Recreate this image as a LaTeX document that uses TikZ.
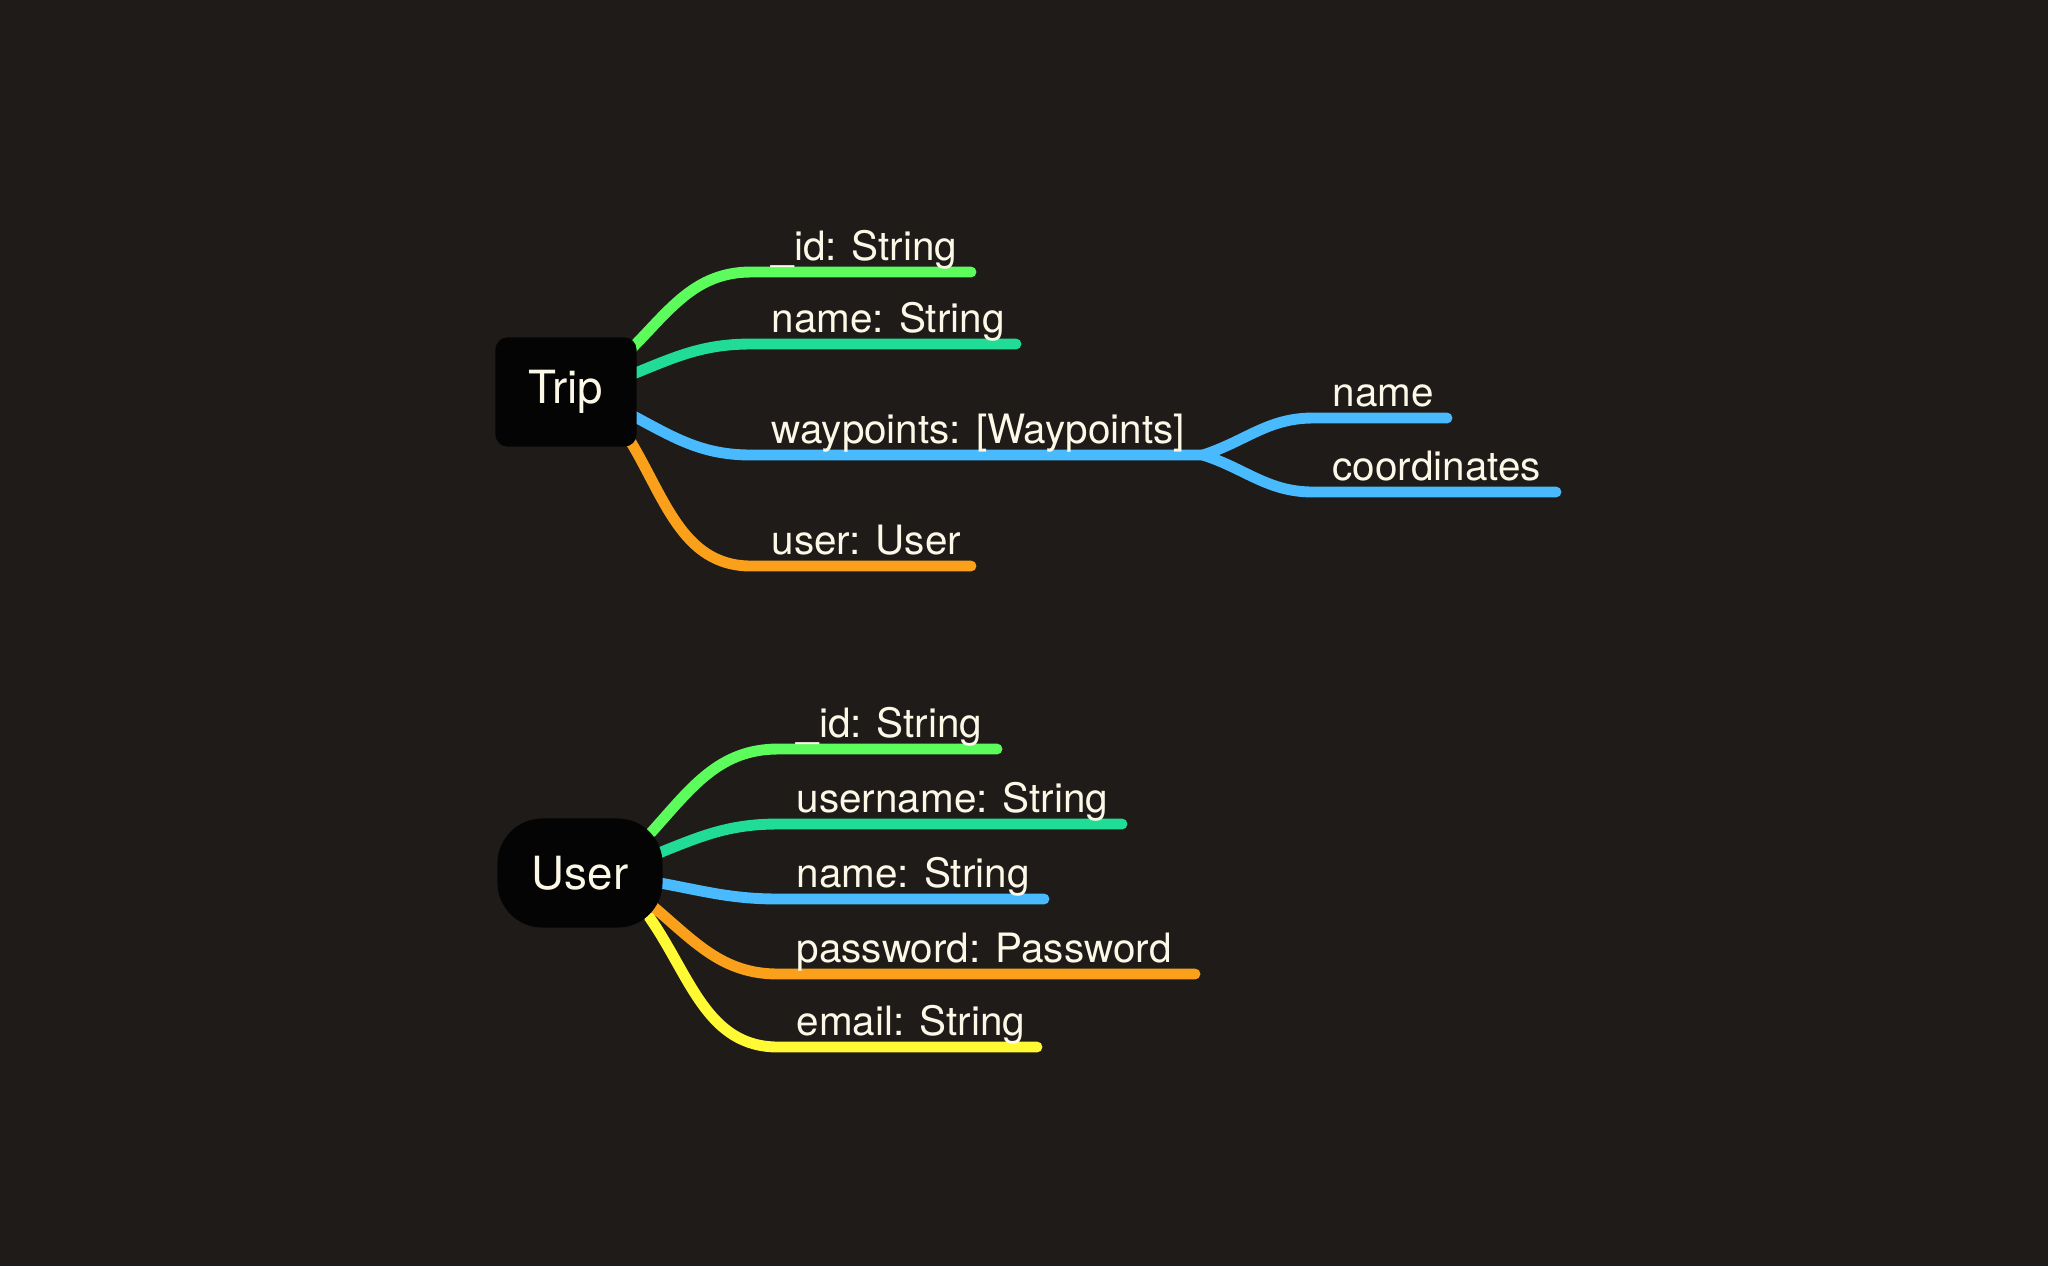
\documentclass[tikz,border=0pt]{standalone}
\usepackage{fontspec}
\setmainfont{TeX Gyre Heros}
\usepackage{tikz}
\usetikzlibrary{positioning}

\definecolor{canvasdark}{RGB}{30,27,24}
\definecolor{boxblack}{RGB}{4,4,4}
\definecolor{inkcream}{RGB}{252,248,232}
\definecolor{cgreen}{RGB}{92,252,92}
\definecolor{cteal}{RGB}{32,220,150}
\definecolor{cblue}{RGB}{74,186,255}
\definecolor{corange}{RGB}{250,160,26}
\definecolor{cyellow}{RGB}{255,250,52}

\pgfdeclarelayer{canvas}
\pgfdeclarelayer{links}
\pgfsetlayers{canvas,links,main}

\tikzset{
  entity/.style={fill=boxblack, text=inkcream, minimum height=1.09cm,
    font=\fontsize{13}{15}\selectfont},
  field/.style={anchor=base west, inner sep=0pt, text=inkcream,
    font=\fontsize{11.5}{14}\selectfont},
  branch/.style={line width=3.1pt, line cap=round},
}

\begin{document}
\begin{tikzpicture}[x=0.01cm, y=-0.01cm]
  \begin{pgfonlayer}{canvas}
    \fill[canvasdark] (0,0) rectangle (2048,1266);
  \end{pgfonlayer}

  \node[entity, minimum width=1.41cm, rounded corners=0.12cm] (trip) at (566,392) {Trip};
  \coordinate (tid) at (751,272);      \coordinate (tidend) at (971,272);
  \coordinate (tname) at (751,344);    \coordinate (tnameend) at (1016,344);
  \coordinate (twp) at (751,455);      \coordinate (twpend) at (1203,455);
  \coordinate (tuser) at (751,566);    \coordinate (tuserend) at (971,566);
  \coordinate (wname) at (1313,418);   \coordinate (wnameend) at (1447,418);
  \coordinate (wcoord) at (1313,492);  \coordinate (wcoordend) at (1556,492);

  \node[field] (tidlbl) at ([shift={(20,-12)}]tid) {\_id: String};
  \node[field] (tnamelbl) at ([shift={(20,-12)}]tname) {name: String};
  \node[field] (twplbl) at ([shift={(20,-12)}]twp) {waypoints: [Waypoints]};
  \node[field] (tuserlbl) at ([shift={(20,-12)}]tuser) {user: User};
  \node[field] (wnamelbl) at ([shift={(19,-12)}]wname) {name};
  \node[field] (wcoordlbl) at ([shift={(19,-12)}]wcoord) {coordinates};

  \node[entity, minimum width=1.65cm, rounded corners=0.45cm] (user) at (580,873) {User};
  \coordinate (uid) at (778,749);      \coordinate (uidend) at (997,749);
  \coordinate (uuname) at (778,824);   \coordinate (uunameend) at (1122,824);
  \coordinate (uname) at (778,899);    \coordinate (unameend) at (1044,899);
  \coordinate (upass) at (778,974);    \coordinate (upassend) at (1195,974);
  \coordinate (umail) at (778,1047);   \coordinate (umailend) at (1037,1047);

  \node[field] (uidlbl) at ([shift={(18,-12)}]uid) {\_id: String};
  \node[field] (uunamelbl) at ([shift={(18,-12)}]uuname) {username: String};
  \node[field] (unamelbl) at ([shift={(18,-12)}]uname) {name: String};
  \node[field] (upasslbl) at ([shift={(18,-12)}]upass) {password: Password};
  \node[field] (umaillbl) at ([shift={(18,-12)}]umail) {email: String};

  \begin{pgfonlayer}{links}
    \draw[branch, cgreen] ([shift={(-8,0)}]trip.30) to[out=45, in=180] (tid) -- (tidend);
    \draw[branch, cteal] ([shift={(-8,0)}]trip.13) to[out=22, in=180] (tname) -- (tnameend);
    \draw[branch, cblue] ([shift={(-8,0)}]trip.-17) to[out=-28, in=180] (twp) -- (twpend);
    \draw[branch, corange] ([shift={(-10,-4)}]trip.-34) to[out=-58, in=180] (tuser) -- (tuserend);
    \draw[branch, cblue] (twpend) to[out=18, in=180] (wname) -- (wnameend);
    \draw[branch, cblue] (twpend) to[out=-18, in=180] (wcoord) -- (wcoordend);

    \draw[branch, cgreen] ([shift={(-12,0)}]user.26) to[out=48, in=180] (uid) -- (uidend);
    \draw[branch, cteal] ([shift={(-10,0)}]user.12) to[out=22, in=180] (uuname) -- (uunameend);
    \draw[branch, cblue] ([shift={(-10,0)}]user.-6) to[out=-10, in=180] (uname) -- (unameend);
    \draw[branch, corange] ([shift={(-12,0)}]user.-21) to[out=-40, in=180] (upass) -- (upassend);
    \draw[branch, cyellow] ([shift={(-14,-4)}]user.-30) to[out=-55, in=180] (umail) -- (umailend);
  \end{pgfonlayer}
\end{tikzpicture}
\end{document}
